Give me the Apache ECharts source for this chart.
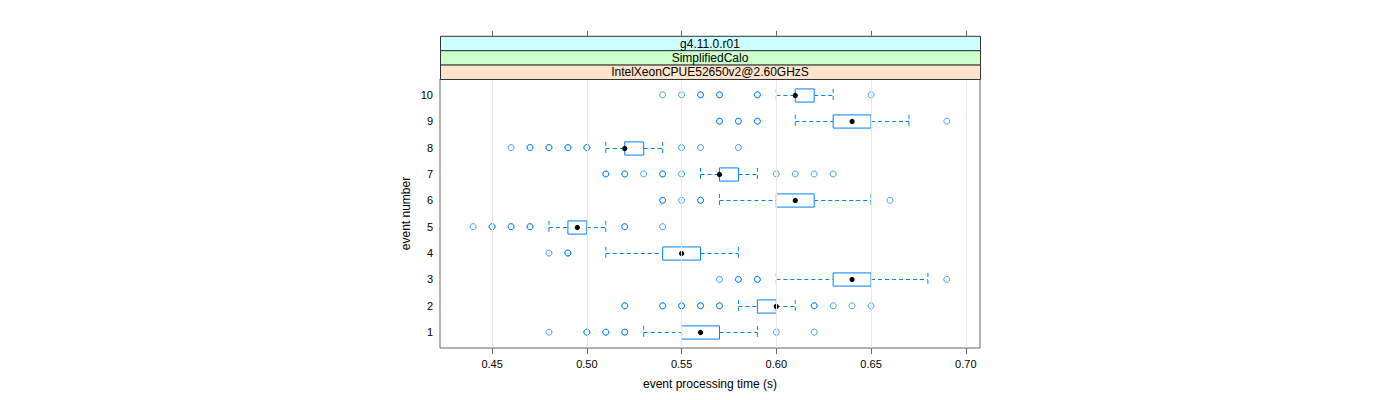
<!DOCTYPE html>
<html>
<head>
<meta charset="utf-8">
<style>
  html, body { margin: 0; padding: 0; background: #fff; }
  #chart { width: 1400px; height: 400px; }
</style>
<script src="https://cdn.jsdelivr.net/npm/echarts@6/dist/echarts.min.js"></script>
</head>
<body>
<div id="chart"></div>
<script>
// ---- data ----
const events = [1, 2, 3, 4, 5, 6, 7, 8, 9, 10];
const whiskerLow = [0.53, 0.58, 0.60, 0.51, 0.48, 0.57, 0.56, 0.51, 0.61, 0.60];
const q1         = [0.55, 0.59, 0.63, 0.54, 0.49, 0.60, 0.57, 0.52, 0.63, 0.61];
const median     = [0.56, 0.60, 0.64, 0.55, 0.495, 0.61, 0.57, 0.52, 0.64, 0.61];
const q3         = [0.57, 0.60, 0.65, 0.56, 0.50, 0.62, 0.58, 0.53, 0.65, 0.62];
const whiskerHigh= [0.59, 0.61, 0.68, 0.58, 0.51, 0.65, 0.59, 0.54, 0.67, 0.63];
const outliers = [
  [0.48, 0.50, 0.50, 0.51, 0.51, 0.52, 0.52, 0.60, 0.62],
  [0.52, 0.52, 0.54, 0.54, 0.55, 0.55, 0.56, 0.56, 0.57, 0.57, 0.62, 0.62, 0.63, 0.64, 0.65],
  [0.57, 0.58, 0.58, 0.59, 0.59, 0.69],
  [0.48, 0.49, 0.49],
  [0.44, 0.45, 0.45, 0.46, 0.46, 0.47, 0.47, 0.52, 0.52, 0.54],
  [0.54, 0.54, 0.55, 0.56, 0.56, 0.66],
  [0.51, 0.51, 0.52, 0.52, 0.53, 0.54, 0.54, 0.55, 0.60, 0.61, 0.62, 0.63],
  [0.46, 0.47, 0.47, 0.48, 0.48, 0.49, 0.49, 0.50, 0.50, 0.55, 0.56, 0.58],
  [0.57, 0.57, 0.58, 0.58, 0.59, 0.59, 0.69],
  [0.54, 0.55, 0.56, 0.56, 0.57, 0.57, 0.59, 0.59, 0.65]
];
const xTicks = [0.45, 0.50, 0.55, 0.60, 0.65, 0.70];
const xTickLabels = ['0.45', '0.50', '0.55', '0.60', '0.65', '0.70'];
const strips = ['g4.11.0.r01', 'SimplifiedCalo', 'IntelXeonCPUE52650v2@2.60GHzS'];
const xTitle = 'event processing time (s)';
const yTitle = 'event number';

// ---- styling ----
const FONT = '"Liberation Sans", Arial, Helvetica, sans-serif';
const BLUE = '#0080ff';
const stripColors = ['#ccffff', '#ccffcc', '#ffe5cc'];
const G = { left: 440, right: 420, top: 79, bottom: 52 };
const PW = 1400 - G.left - G.right;
const stripH = 14.4;

const boxData = events.map((e, i) => [e, whiskerLow[i], q1[i], median[i], q3[i], whiskerHigh[i]]);
const outlierData = [];
outliers.forEach((list, i) => list.forEach(v => outlierData.push([v, events[i]])));

const chart = echarts.init(document.getElementById('chart'), null, { renderer: 'svg' });

const graphics = [];
strips.forEach((s, k) => {
  const top = G.top - stripH * (strips.length - k);
  graphics.push({
    type: 'rect', left: G.left, top: top, z: 10,
    shape: { width: PW, height: stripH },
    style: { fill: stripColors[k], stroke: '#333', lineWidth: 1 }
  });
  graphics.push({
    type: 'text', x: G.left + PW / 2, y: top + stripH / 2 + 0.5, z: 11,
    style: { text: s, fill: '#000', font: '12px ' + FONT, textAlign: 'center', textVerticalAlign: 'middle' }
  });
});

const option = {
  animation: false,
  backgroundColor: '#fff',
  color: [BLUE],
  textStyle: { fontFamily: FONT },
  grid: {
    left: G.left, right: G.right, top: G.top, bottom: G.bottom,
    show: true, borderColor: '#666', borderWidth: 1, backgroundColor: 'transparent'
  },
  xAxis: [
    {
      type: 'value', min: 0.4225, max: 0.7075, position: 'bottom',
      axisLine: { show: false },
      axisTick: { show: true, inside: false, length: 6, customValues: xTicks, lineStyle: { color: '#666' } },
      axisLabel: {
        show: true, customValues: xTicks, margin: 10, fontSize: 11, color: '#000', fontFamily: FONT,
        formatter: v => { const i = xTicks.findIndex(t => Math.abs(t - v) < 1e-9); return i >= 0 ? xTickLabels[i] : ''; }
      },
      splitLine: { show: false },
      name: xTitle, nameLocation: 'middle', nameGap: 30,
      nameTextStyle: { fontSize: 12, color: '#000', fontFamily: FONT }
    },
    {
      type: 'value', min: 0.4225, max: 0.7075, position: 'top', offset: stripH * 3,
      axisLine: { show: false },
      axisTick: { show: true, inside: false, length: 5, customValues: xTicks, lineStyle: { color: '#666' } },
      axisLabel: { show: false },
      splitLine: { show: false }
    }
  ],
  yAxis: {
    type: 'value', min: 0.4, max: 10.6,
    axisLine: { show: false },
    axisTick: { show: false },
    axisLabel: { show: true, customValues: events, margin: 7, fontSize: 11, color: '#000', fontFamily: FONT },
    splitLine: { show: false },
    name: yTitle, nameLocation: 'middle', nameGap: 28, nameRotate: 90,
    nameTextStyle: { fontSize: 12, color: '#000', fontFamily: FONT }
  },
  graphic: graphics,
  series: [
    {
      type: 'custom',
      name: 'box',
      data: boxData,
      z: 3,
      itemStyle: { color: BLUE, borderColor: BLUE },
      encode: { x: [1, 2, 3, 4, 5], y: 0 },
      markLine: {
        silent: true, symbol: 'none', label: { show: false },
        lineStyle: { color: '#e6e6e6', width: 1, type: 'solid' },
        data: xTicks.map(t => ({ xAxis: t }))
      },
      renderItem: function (params, api) {
        const y = api.value(0);
        const lo = api.coord([api.value(1), y]);
        const b1 = api.coord([api.value(2), y]);
        const md = api.coord([api.value(3), y]);
        const b3 = api.coord([api.value(4), y]);
        const hi = api.coord([api.value(5), y]);
        const h = api.size([0, 0.5])[1];
        const cy = Math.round(lo[1]) + 0.5;
        const dash = () => ({ stroke: BLUE, lineWidth: 1, lineDash: [4, 3], fill: 'none' });
        return {
          type: 'group',
          children: [
            { type: 'line', shape: { x1: lo[0], y1: cy, x2: b1[0], y2: cy }, style: dash() },
            { type: 'line', shape: { x1: b3[0], y1: cy, x2: hi[0], y2: cy }, style: dash() },
            { type: 'line', shape: { x1: lo[0], y1: cy - h / 2, x2: lo[0], y2: cy + h / 2 }, style: dash() },
            { type: 'line', shape: { x1: hi[0], y1: cy - h / 2, x2: hi[0], y2: cy + h / 2 }, style: dash() },
            { type: 'rect', shape: { x: b1[0], y: cy - h / 2, width: b3[0] - b1[0], height: h },
              style: { stroke: BLUE, lineWidth: 1, fill: '#fff' } },
            { type: 'circle', shape: { cx: md[0], cy: cy, r: 2.6 }, style: { fill: '#000', stroke: 'none' } }
          ]
        };
      }
    },
    {
      type: 'scatter',
      name: 'outliers',
      data: outlierData,
      z: 4,
      symbol: 'circle',
      symbolSize: 6,
      itemStyle: { color: 'transparent', borderColor: BLUE, borderWidth: 1, opacity: 0.75 },
      silent: true
    }
  ]
};
chart.setOption(option);
</script>
</body>
</html>
